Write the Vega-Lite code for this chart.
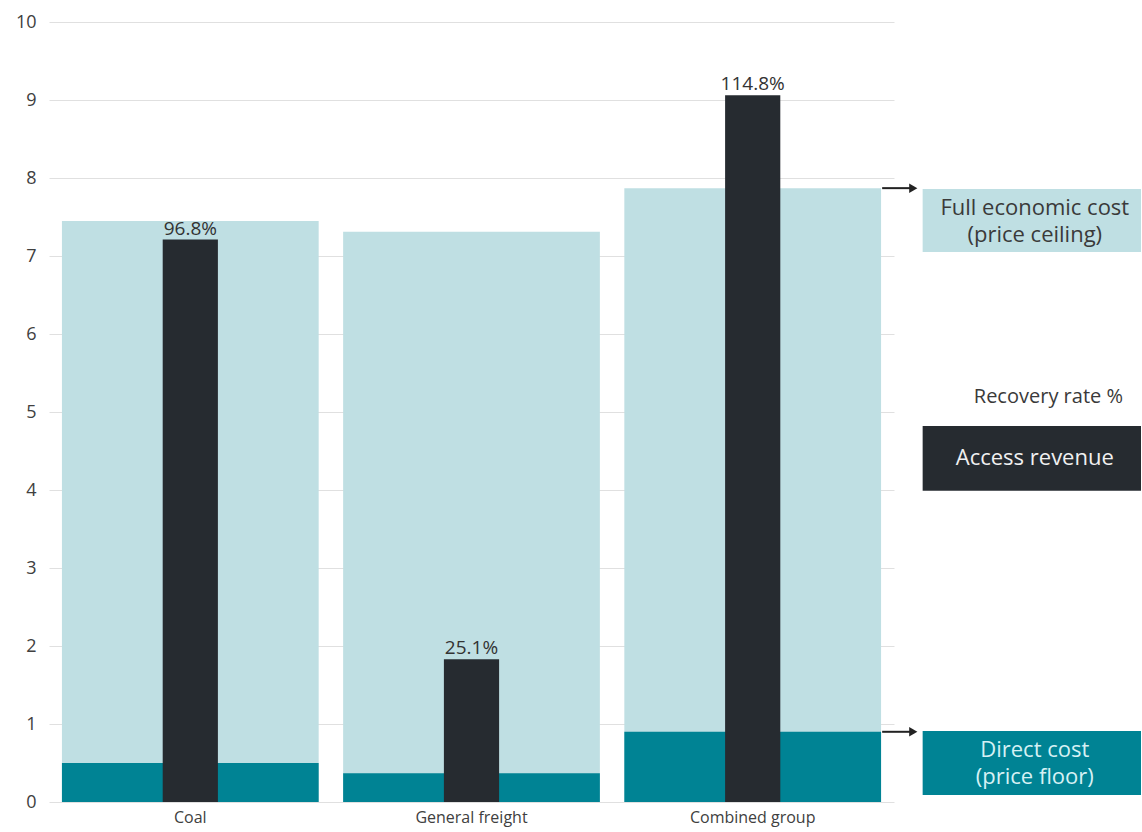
{
  "$schema": "https://vega.github.io/schema/vega-lite/v6.json",
  "background": "white",
  "padding": {"left": 15, "top": 13, "right": 0, "bottom": 5},
  "spacing": 0,
  "bounds": "flush",
  "config": {
    "view": {"stroke": null},
    "font": "Open Sans",
    "concat": {"spacing": 0}
  },
  "datasets": {
    "main": [
      {"category": "Coal", "full": 7.45, "direct": 0.50, "revenue": 7.21, "rate": "96.8%"},
      {"category": "General freight", "full": 7.31, "direct": 0.37, "revenue": 1.83, "rate": "25.1%"},
      {"category": "Combined group", "full": 7.87, "direct": 0.90, "revenue": 9.06, "rate": "114.8%"}
    ],
    "legend": [
      {"kind": "full", "line1": "Full economic cost", "line2": "(price ceiling)", "top": 7.86, "bottom": 7.05, "anchor": 7.87},
      {"kind": "revenue", "line1": "Access revenue", "top": 4.82, "bottom": 3.99},
      {"kind": "direct", "line1": "Direct cost", "line2": "(price floor)", "top": 0.91, "bottom": 0.09, "anchor": 0.90}
    ],
    "title": [
      {"label": "Recovery rate %", "y": 5.19}
    ]
  },
  "hconcat": [
    {
      "width": 845,
      "height": 780,
      "data": {"name": "main"},
      "encoding": {
        "x": {
          "field": "category",
          "type": "nominal",
          "sort": null,
          "scale": {"paddingInner": 0.087, "paddingOuter": 0.046},
          "axis": {
            "title": null,
            "domain": false,
            "ticks": false,
            "labelAngle": 0,
            "labelFontSize": 16,
            "labelColor": "#404040",
            "labelPadding": 7
          }
        }
      },
      "layer": [
        {
          "mark": {"type": "bar", "color": "#bfdfe3"},
          "encoding": {
            "y": {
              "field": "full",
              "type": "quantitative",
              "scale": {"domain": [0, 10], "nice": false},
              "axis": {
                "title": null,
                "values": [0, 1, 2, 3, 4, 5, 6, 7, 8, 9, 10],
                "format": "d",
                "domain": false,
                "ticks": false,
                "grid": true,
                "gridColor": "#e0e0e0",
                "gridWidth": 1,
                "labelFontSize": 18,
                "labelColor": "#404040",
                "labelPadding": 13
              }
            }
          }
        },
        {
          "mark": {"type": "bar", "color": "#008394"},
          "encoding": {"y": {"field": "direct", "type": "quantitative"}}
        },
        {
          "mark": {"type": "bar", "color": "#262b30", "width": {"band": 0.215}},
          "encoding": {"y": {"field": "revenue", "type": "quantitative"}}
        },
        {
          "mark": {"type": "text", "fontSize": 19, "color": "#333333", "baseline": "alphabetic", "dy": -5},
          "encoding": {
            "y": {"field": "revenue", "type": "quantitative"},
            "text": {"field": "rate"}
          }
        }
      ]
    },
    {
      "width": 247,
      "height": 780,
      "layer": [
        {
          "data": {"name": "legend"},
          "mark": {"type": "rect"},
          "encoding": {
            "x": {"datum": 11.6, "type": "quantitative", "scale": {"domain": [0, 100], "nice": false}, "axis": null},
            "x2": {"datum": 100},
            "y": {"field": "top", "type": "quantitative", "scale": {"domain": [0, 10], "nice": false}, "axis": null},
            "y2": {"field": "bottom"},
            "color": {
              "field": "kind",
              "type": "nominal",
              "scale": {"domain": ["full", "revenue", "direct"], "range": ["#bfdfe3", "#262b30", "#008394"]},
              "legend": null
            }
          }
        },
        {
          "data": {"name": "legend"},
          "transform": [{"filter": "isValid(datum.anchor)"}],
          "mark": {"type": "rule", "color": "#222222", "strokeWidth": 2},
          "encoding": {
            "x": {"datum": -4.8, "type": "quantitative"},
            "x2": {"datum": 7},
            "y": {"field": "anchor", "type": "quantitative"}
          }
        },
        {
          "data": {"name": "legend"},
          "transform": [{"filter": "isValid(datum.anchor)"}],
          "mark": {"type": "point", "shape": "triangle-right", "filled": true, "color": "#222222", "size": 90, "opacity": 1},
          "encoding": {
            "x": {"datum": 7.8, "type": "quantitative"},
            "y": {"field": "anchor", "type": "quantitative"}
          }
        },
        {
          "data": {"name": "legend"},
          "transform": [
            {"filter": "isValid(datum.line2)"},
            {"calculate": "(datum.top + datum.bottom) / 2", "as": "mid"}
          ],
          "mark": {"type": "text", "fontSize": 22, "align": "center", "baseline": "middle", "dy": -13},
          "encoding": {
            "x": {"datum": 57, "type": "quantitative"},
            "y": {"field": "mid", "type": "quantitative"},
            "text": {"field": "line1"},
            "color": {
              "field": "kind",
              "type": "nominal",
              "scale": {"domain": ["full", "revenue", "direct"], "range": ["#3a3a3a", "#f0f0f0", "#d6f1f4"]},
              "legend": null
            }
          }
        },
        {
          "data": {"name": "legend"},
          "transform": [
            {"filter": "isValid(datum.line2)"},
            {"calculate": "(datum.top + datum.bottom) / 2", "as": "mid"}
          ],
          "mark": {"type": "text", "fontSize": 22, "align": "center", "baseline": "middle", "dy": 14},
          "encoding": {
            "x": {"datum": 57, "type": "quantitative"},
            "y": {"field": "mid", "type": "quantitative"},
            "text": {"field": "line2"},
            "color": {
              "field": "kind",
              "type": "nominal",
              "scale": {"domain": ["full", "revenue", "direct"], "range": ["#3a3a3a", "#f0f0f0", "#d6f1f4"]},
              "legend": null
            }
          }
        },
        {
          "data": {"name": "legend"},
          "transform": [
            {"filter": "!isValid(datum.line2)"},
            {"calculate": "(datum.top + datum.bottom) / 2", "as": "mid"}
          ],
          "mark": {"type": "text", "fontSize": 22, "align": "center", "baseline": "middle", "color": "#f0f0f0"},
          "encoding": {
            "x": {"datum": 57, "type": "quantitative"},
            "y": {"field": "mid", "type": "quantitative"},
            "text": {"field": "line1"}
          }
        },
        {
          "data": {"name": "title"},
          "mark": {"type": "text", "fontSize": 20, "align": "center", "baseline": "middle", "color": "#3a3a3a"},
          "encoding": {
            "x": {"datum": 62.5, "type": "quantitative"},
            "y": {"field": "y", "type": "quantitative"},
            "text": {"field": "label"}
          }
        }
      ],
      "resolve": {"scale": {"color": "independent"}}
    }
  ]
}
